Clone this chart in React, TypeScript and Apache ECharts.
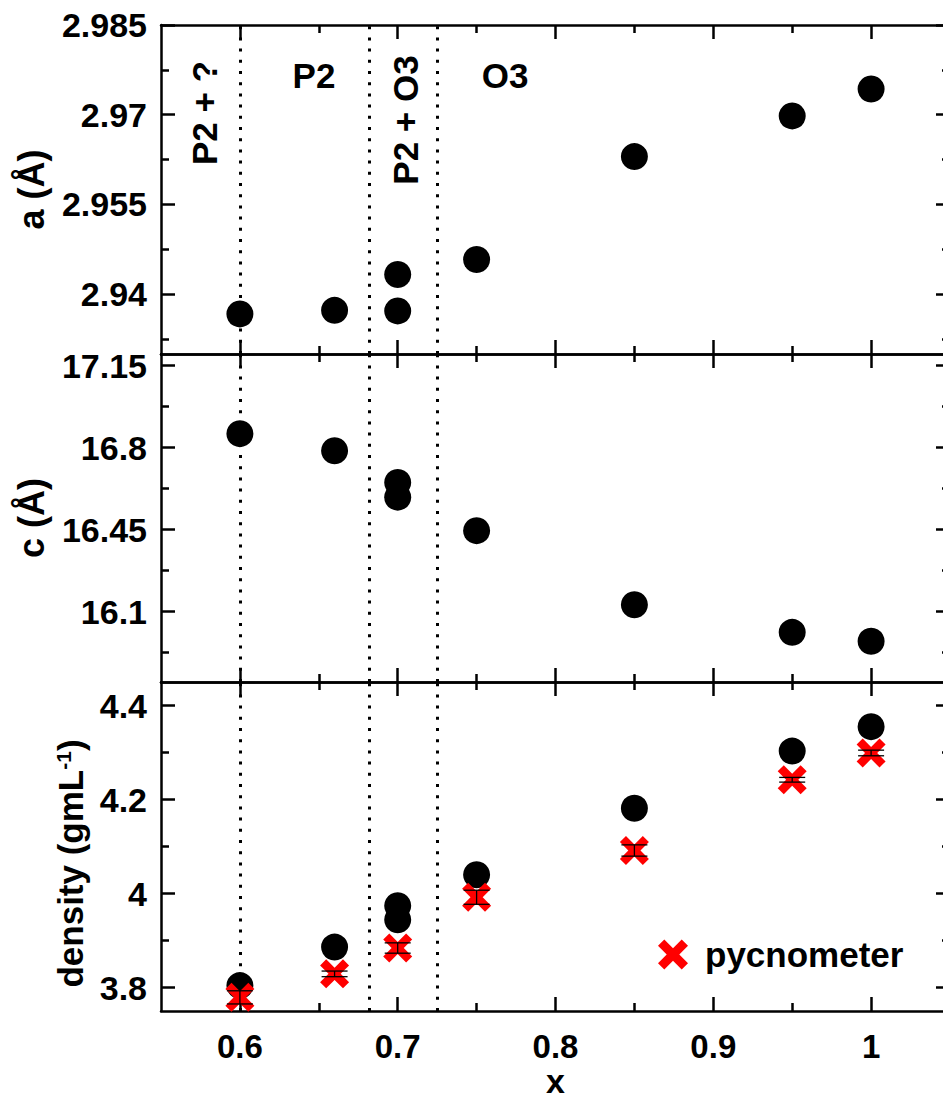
import React, { useEffect, useRef } from "react";
import * as echarts from "echarts";

// ---- data ----
const xValues = [0.6, 0.66, 0.7, 0.7, 0.75, 0.85, 0.95, 1.0];
const aValues = [2.9367, 2.9373, 2.9433, 2.9372, 2.9458, 2.963, 2.9698, 2.9743];
const cValues = [16.86, 16.787, 16.652, 16.589, 16.446, 16.13, 16.012, 15.974];
const densityXrd = [3.804, 3.886, 3.974, 3.944, 4.04, 4.1815, 4.303, 4.355];
const pycnoX = [0.6, 0.66, 0.7, 0.75, 0.85, 0.95, 1.0];
const pycnoDensity = [3.779, 3.829, 3.884, 3.992, 4.0915, 4.242, 4.299];
const pycnoError = [0.014, 0.006, 0.011, 0.015, 0.012, 0.005, 0.006];
const phaseBoundaries = [0.6, 0.682, 0.725];
const phaseLabels = ["P2 + ?", "P2", "P2 + O3", "O3"];

const xTicks = [0.6, 0.7, 0.8, 0.9, 1];
const aTicks = [2.94, 2.955, 2.97, 2.985];
const aMinorTicks = [2.9325, 2.9475, 2.9625, 2.9775];
const cTicks = [16.1, 16.45, 16.8, 17.15];
const cMinorTicks = [15.925, 16.275, 16.625, 16.975];
const dTicks = [3.8, 4.0, 4.2, 4.4];
const dMinorTicks = [3.9, 4.1, 4.3];

const FONT = '"Liberation Sans", Arial, Helvetica, sans-serif';
const CROSS =
  "path://M0,21L21,0L50,29L79,0L100,21L71,50L100,79L79,100L50,71L21,100L0,79L29,50Z";

export default function App() {
  const ref = useRef<HTMLDivElement | null>(null);

  useEffect(() => {
    if (!ref.current) return;
    const chart = echarts.init(ref.current, undefined, { renderer: "svg" });

    const lineStyle = { color: "#000", width: 2.5 };
    const gridBase = { left: 161, right: -7, containLabel: false, outerBoundsMode: "none" };
    const grids = [
      { ...gridBase, top: 25, height: 329 },
      { ...gridBase, top: 354, height: 328 },
      { ...gridBase, top: 682, height: 329 },
    ];
    const yRanges = [
      { min: 2.93, max: 2.985, ticks: aTicks, minor: aMinorTicks, name: "a (Å)", gap: 112, size: 36, pad: [0, 0, 0, 0] },
      { min: 15.8, max: 17.2, ticks: cTicks, minor: cMinorTicks, name: "c (Å)", gap: 112, size: 36, pad: [0, 0, 0, 0] },
      {
        min: 3.75,
        max: 4.45,
        ticks: dTicks,
        minor: dMinorTicks,
        name: "{n|density (gmL}{s|-1}{n|)}",
        gap: 73,
        size: 35,
        pad: [0, 34, 0, 0],
      },
    ];

    const xAxes: any[] = [];
    const yAxes: any[] = [];
    grids.forEach((_, gi) => {
      ["bottom", "top"].forEach((pos) => {
        const isLabelled = gi === 2 && pos === "bottom";
        xAxes.push({
          type: "value",
          gridIndex: gi,
          position: pos,
          min: 0.55,
          max: 1.05,
          splitNumber: 5,
          axisLine: { show: true, onZero: false, lineStyle },
          axisTick: { show: true, inside: true, length: 14, lineStyle, customValues: xTicks },
          minorTick: { show: true, splitNumber: 2, length: 8, lineStyle },
          splitLine: { show: false },
          minorSplitLine: { show: false },
          axisLabel: {
            show: isLabelled,
            customValues: xTicks,
            margin: 19,
            color: "#000",
            fontSize: 33,
            fontWeight: "bold",
            fontFamily: FONT,
          },
          name: isLabelled ? "x" : "",
          nameLocation: "middle",
          nameGap: 52,
          nameTextStyle: {
            color: "#000",
            fontSize: 34,
            fontWeight: "bold",
            fontFamily: FONT,
          },
        });
      });
      const r = yRanges[gi];
      ["left", "right"].forEach((pos) => {
        yAxes.push({
          type: "value",
          gridIndex: gi,
          position: pos,
          min: r.min,
          max: r.max,
          axisLine: { show: true, onZero: false, lineStyle },
          axisTick: { show: true, inside: true, length: 14, lineStyle, customValues: r.ticks },
          splitLine: { show: false },
          axisLabel: {
            show: pos === "left",
            customValues: r.ticks,
            margin: 14,
            color: "#000",
            fontSize: 34,
            fontWeight: "bold",
            fontFamily: FONT,
          },
          name: pos === "left" ? r.name : "",
          nameLocation: "middle",
          nameRotate: 90,
          nameGap: r.gap,
          nameTextStyle: {
            color: "#000",
            fontSize: r.size,
            fontWeight: "bold",
            fontFamily: FONT,
            padding: r.pad,
            rich: {
              n: { color: "#000", fontSize: r.size, fontWeight: "bold", fontFamily: FONT },
              s: {
                color: "#000",
                fontSize: 21,
                fontWeight: "bold",
                fontFamily: FONT,
                verticalAlign: "top",
              },
            },
          },
        });
        yAxes.push({
          type: "value",
          gridIndex: gi,
          position: pos,
          min: r.min,
          max: r.max,
          axisLine: { show: false, onZero: false },
          axisTick: { show: true, inside: true, length: 8, lineStyle, customValues: r.minor },
          splitLine: { show: false },
          axisLabel: { show: false },
        });
      });
    });

    const boundaryLine = {
      silent: true,
      z: 1,
      precision: 4,
      symbol: ["none", "none"],
      label: { show: false },
      lineStyle: { color: "#000", width: 3, type: [3, 8.2], opacity: 1 },
      data: phaseBoundaries.map((v) => ({ xAxis: v })),
    };

    const circleSeries = (name: string, xi: number, yi: number, vals: number[]) => ({
      name,
      type: "scatter",
      xAxisIndex: xi,
      yAxisIndex: yi,
      symbol: "circle",
      symbolSize: 27,
      itemStyle: { color: "#000", opacity: 1 },
      z: 3,
      data: xValues.map((x, i) => [x, vals[i]]),
      markLine: boundaryLine,
    });

    const textStyleBase = {
      fill: "#000",
      fontSize: 35,
      fontWeight: "bold",
      fontFamily: FONT,
      textAlign: "center",
      textVerticalAlign: "middle",
      align: "center",
      verticalAlign: "middle",
    };

    const option: any = {
      animation: false,
      textStyle: { fontFamily: FONT },
      grid: grids,
      xAxis: xAxes,
      yAxis: yAxes,
      legend: {
        data: ["pycnometer"],
        left: 658,
        top: 937,
        padding: 0,
        itemWidth: 54,
        itemHeight: 30,
        icon: CROSS,
        selectedMode: false,
        itemStyle: { opacity: 1 },
        textStyle: { color: "#000", fontSize: 35, fontWeight: "bold", fontFamily: FONT },
      },
      graphic: [
        { type: "text", x: 204, y: 113, rotation: Math.PI / 2, style: { ...textStyleBase, text: phaseLabels[0] } },
        { type: "text", x: 314, y: 75, style: { ...textStyleBase, text: phaseLabels[1] } },
        { type: "text", x: 405, y: 120, rotation: Math.PI / 2, style: { ...textStyleBase, text: phaseLabels[2] } },
        { type: "text", x: 505, y: 75, style: { ...textStyleBase, text: phaseLabels[3] } },
      ],
      series: [
        circleSeries("a", 0, 0, aValues),
        circleSeries("c", 2, 4, cValues),
        circleSeries("density", 4, 8, densityXrd),
        {
          name: "pycnometer",
          type: "scatter",
          xAxisIndex: 4,
          yAxisIndex: 8,
          symbol: CROSS,
          symbolSize: 29,
          itemStyle: { color: "#ff0000", opacity: 1 },
          z: 4,
          data: pycnoX.map((x, i) => [x, pycnoDensity[i]]),
        },
        {
          name: "pycnometer error",
          type: "custom",
          xAxisIndex: 4,
          yAxisIndex: 8,
          z: 5,
          silent: true,
          data: pycnoX.map((x, i) => [x, pycnoDensity[i], pycnoError[i]]),
          renderItem: (_params: any, api: any) => {
            const x = api.value(0);
            const y = api.value(1);
            const e = api.value(2);
            const top = api.coord([x, y + e]);
            const bot = api.coord([x, y - e]);
            const hw = 13;
            const st = { stroke: "#000", lineWidth: 1.3 };
            return {
              type: "group",
              children: [
                { type: "line", shape: { x1: top[0], y1: top[1], x2: bot[0], y2: bot[1] }, style: st },
                { type: "line", shape: { x1: top[0] - hw, y1: top[1], x2: top[0] + hw, y2: top[1] }, style: st },
                { type: "line", shape: { x1: bot[0] - hw, y1: bot[1], x2: bot[0] + hw, y2: bot[1] }, style: st },
              ],
            };
          },
        },
      ],
    };

    chart.setOption(option);
    return () => chart.dispose();
  }, []);

  return (
    <div
      ref={ref}
      style={{ position: "absolute", left: 0, top: 0, width: 943, height: 1100, background: "#fff" }}
    />
  );
}
